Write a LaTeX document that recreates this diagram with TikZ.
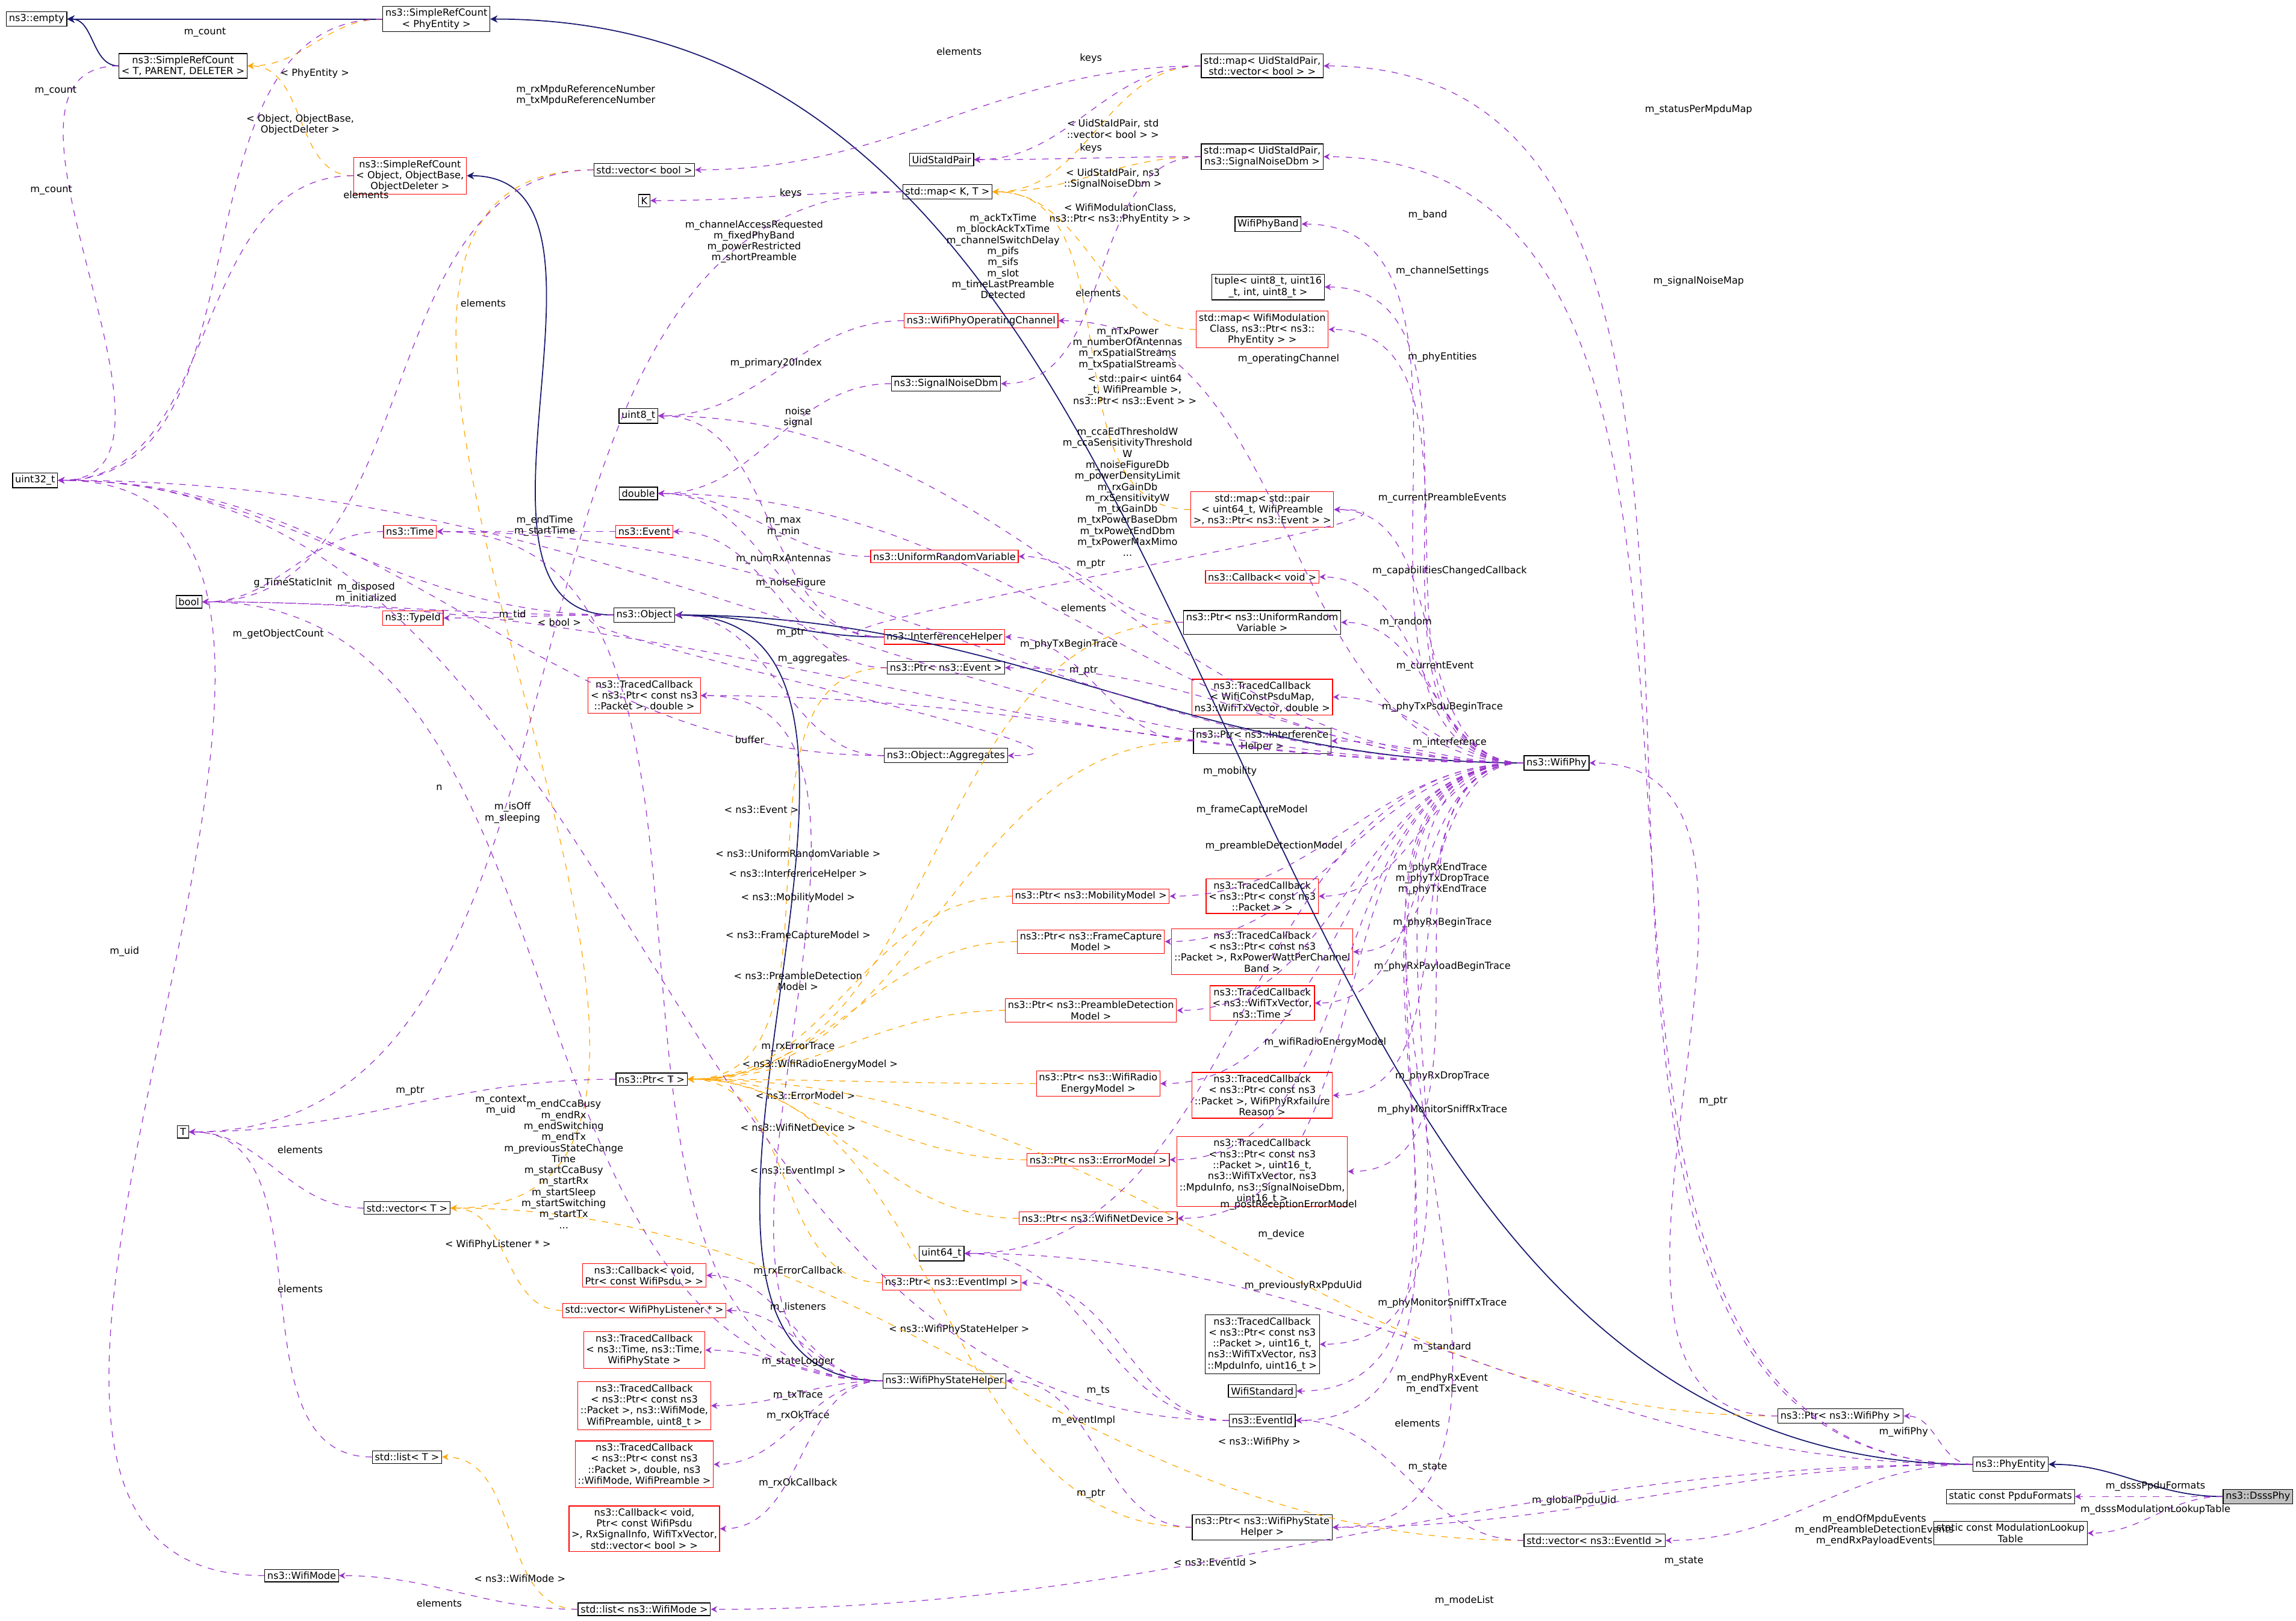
\documentclass[tikz,border=0pt]{standalone}
\usepackage{fontspec}
\setmainfont{DejaVu Sans}
\usetikzlibrary{arrows.meta}
\definecolor{usecol}{RGB}{154,50,205}
\definecolor{tplcol}{RGB}{255,165,0}
\definecolor{inhcol}{RGB}{25,25,112}
\tikzset{
  cls/.style={draw=black, fill=white, font=\fontsize{4.6}{5.2}\selectfont, align=center, inner sep=1.2pt, line width=0.35pt},
  redcls/.style={cls, draw=red},
  graycls/.style={cls, fill=black!25},
  elabel/.style={font=\fontsize{4.6}{5.2}\selectfont, align=center, inner sep=0.5pt},
  useedge/.style={draw=usecol, dashed, line width=0.35pt, -{Stealth[length=3pt,width=3pt]}},
  tpledge/.style={draw=tplcol, dashed, line width=0.35pt, -{Stealth[length=3pt,width=3pt]}},
  inhedge/.style={draw=inhcol, line width=0.5pt, -{Stealth[length=3.5pt,width=3.5pt]}}
}
% edge from user to used type, label placed at a given point
\newcommand{\usedge}[4]{\draw[useedge] (#1) to[out=180,in=0] (#2); \node[elabel] at (#4) {#3};}
\newcommand{\tpledge}[4]{\draw[tpledge] (#1) to[out=180,in=0] (#2); \node[elabel] at (#4) {#3};}
\newcommand{\inhedge}[2]{\draw[inhedge] (#1) to[out=180,in=0] (#2);}
\begin{document}
\begin{tikzpicture}[x=0.0243cm, y=-0.0243cm]
\useasboundingbox (0,0) rectangle (1568,1107);

% left column
\node[cls] (empty) at (25,13) {ns3::empty};
\node[cls] (srcPhy) at (298,13) {ns3::SimpleRefCount\\< PhyEntity >};
\node[cls] (srcT) at (125,45) {ns3::SimpleRefCount\\< T, PARENT, DELETER >};
\node[cls] (uint32) at (24,328) {uint32\_t};
\node[redcls] (srcObj) at (280,120) {ns3::SimpleRefCount\\< Object, ObjectBase,\\ObjectDeleter >};
\node[cls] (bool) at (129,411) {bool};
\node[redcls] (time) at (280,363) {ns3::Time};
\node[redcls] (typeid) at (282,422) {ns3::TypeId};
\node[cls] (T) at (125,773) {T};
\node[cls] (vecT) at (278,825) {std::vector< T >};
\node[cls] (listT) at (278,995) {std::list< T >};
\node[cls] (wifimode) at (206,1076) {ns3::WifiMode};

% second column
\node[cls] (vecbool) at (440,116) {std::vector< bool >};
\node[cls] (K) at (440,137) {K};
\node[cls] (uint8) at (436,284) {uint8\_t};
\node[cls] (double) at (436,337) {double};
\node[redcls] (event) at (440,363) {ns3::Event};
\node[cls] (object) at (440,420) {ns3::Object};
\node[redcls] (tcPktDbl) at (440,475) {ns3::TracedCallback\\< ns3::Ptr< const ns3\\::Packet >, double >};
\node[cls] (ptrT) at (445,737) {ns3::Ptr< T >};
\node[redcls] (cbPsdu) at (440,871) {ns3::Callback< void,\\Ptr< const WifiPsdu > >};
\node[redcls] (vecWPL) at (440,895) {std::vector< WifiPhyListener * >};
\node[redcls] (tcState) at (440,922) {ns3::TracedCallback\\< ns3::Time, ns3::Time,\\WifiPhyState >};
\node[redcls] (tcTx) at (440,960) {ns3::TracedCallback\\< ns3::Ptr< const ns3\\::Packet >, ns3::WifiMode,\\WifiPreamble, uint8\_t >};
\node[redcls] (tcRxOk) at (440,1000) {ns3::TracedCallback\\< ns3::Ptr< const ns3\\::Packet >, double, ns3\\::WifiMode, WifiPreamble >};
\node[redcls] (cbRxOk) at (440,1044) {ns3::Callback< void,\\Ptr< const WifiPsdu\\>, RxSignalInfo, WifiTxVector,\\std::vector< bool > >};
\node[cls] (listMode) at (440,1099) {std::list< ns3::WifiMode >};

% third column
\node[cls] (uidpair) at (643,109) {UidStaIdPair};
\node[cls] (mapKT) at (647,131) {std::map< K, T >};
\node[redcls] (opChan) at (670,219) {ns3::WifiPhyOperatingChannel};
\node[cls] (snr) at (646,262) {ns3::SignalNoiseDbm};
\node[redcls] (urv) at (645,380) {ns3::UniformRandomVariable};
\node[redcls] (ih) at (645,435) {ns3::InterferenceHelper};
\node[cls] (ptrEvent) at (646,456) {ns3::Ptr< ns3::Event >};
\node[cls] (aggr) at (646,516) {ns3::Object::Aggregates};
\node[redcls] (ptrMob) at (745,612) {ns3::Ptr< ns3::MobilityModel >};
\node[redcls] (ptrFcm) at (745,643) {ns3::Ptr< ns3::FrameCapture\\Model >};
\node[redcls] (ptrPdm) at (745,690) {ns3::Ptr< ns3::PreambleDetection\\Model >};
\node[redcls] (ptrWrem) at (750,740) {ns3::Ptr< ns3::WifiRadio\\EnergyModel >};
\node[redcls] (ptrErr) at (750,792) {ns3::Ptr< ns3::ErrorModel >};
\node[redcls] (ptrWnd) at (750,832) {ns3::Ptr< ns3::WifiNetDevice >};
\node[cls] (uint64) at (643,856) {uint64\_t};
\node[redcls] (ptrEvImpl) at (650,876) {ns3::Ptr< ns3::EventImpl >};
\node[cls] (wpsh) at (645,943) {ns3::WifiPhyStateHelper};

% fourth column
\node[cls] (mapUidVec) at (862,45) {std::map< UidStaIdPair,\\std::vector< bool > >};
\node[cls] (mapUidSnr) at (862,107) {std::map< UidStaIdPair,\\ns3::SignalNoiseDbm >};
\node[cls] (band) at (866,153) {WifiPhyBand};
\node[cls] (tuple) at (866,196) {tuple< uint8\_t, uint16\\\_t, int, uint8\_t >};
\node[redcls] (mapWmc) at (862,225) {std::map< WifiModulation\\Class, ns3::Ptr< ns3::\\PhyEntity > >};
\node[redcls] (mapPair) at (862,348) {std::map< std::pair\\< uint64\_t, WifiPreamble\\>, ns3::Ptr< ns3::Event > >};
\node[redcls] (cbVoid) at (862,394) {ns3::Callback< void >};
\node[cls] (ptrUrv) at (862,425) {ns3::Ptr< ns3::UniformRandom\\Variable >};
\node[redcls] (tcPsduMap) at (862,476) {ns3::TracedCallback\\< WifiConstPsduMap,\\ns3::WifiTxVector, double >};
\node[cls] (ptrIh) at (862,506) {ns3::Ptr< ns3::Interference\\Helper >};
\node[redcls] (tcPkt) at (862,612) {ns3::TracedCallback\\< ns3::Ptr< const ns3\\::Packet > >};
\node[redcls] (tcRxPow) at (862,650) {ns3::TracedCallback\\< ns3::Ptr< const ns3\\::Packet >, RxPowerWattPerChannel\\Band >};
\node[redcls] (tcTxVecTime) at (862,685) {ns3::TracedCallback\\< ns3::WifiTxVector,\\ns3::Time >};
\node[redcls] (tcFail) at (862,748) {ns3::TracedCallback\\< ns3::Ptr< const ns3\\::Packet >, WifiPhyRxfailure\\Reason >};
\node[redcls] (tcSniffRx) at (862,800) {ns3::TracedCallback\\< ns3::Ptr< const ns3\\::Packet >, uint16\_t,\\ns3::WifiTxVector, ns3\\::MpduInfo, ns3::SignalNoiseDbm,\\uint16\_t >};
\node[cls] (tcSniffTx) at (862,918) {ns3::TracedCallback\\< ns3::Ptr< const ns3\\::Packet >, uint16\_t,\\ns3::WifiTxVector, ns3\\::MpduInfo, uint16\_t >};
\node[cls] (standard) at (862,950) {WifiStandard};
\node[cls] (eventId) at (862,970) {ns3::EventId};
\node[cls] (ptrWpsh) at (862,1043) {ns3::Ptr< ns3::WifiPhyState\\Helper >};

% right part
\node[cls] (wifiphy) at (1063,521) {ns3::WifiPhy};
\node[cls] (vecEventId) at (1089,1052) {std::vector< ns3::EventId >};
\node[cls] (ptrWifiPhy) at (1257,967) {ns3::Ptr< ns3::WifiPhy >};
\node[cls] (phyEntity) at (1373,1000) {ns3::PhyEntity};
\node[cls] (ppduFormats) at (1373,1022) {static const PpduFormats};
\node[cls] (modTable) at (1373,1047) {static const ModulationLookup\\Table};
\node[graycls] (dsss) at (1542,1022) {ns3::DsssPhy};

% inheritance
\inhedge{srcT}{empty}
\inhedge{srcPhy}{empty}
\inhedge{object}{srcObj}
\inhedge{ih}{object}
\inhedge{wifiphy}{object}
\inhedge{wpsh}{object}
\inhedge{phyEntity}{srcPhy}
\inhedge{dsss}{phyEntity}

% templates
\tpledge{srcPhy}{srcT}{< PhyEntity >}{215,50}
\tpledge{srcObj}{srcT}{< Object, ObjectBase,\\ObjectDeleter >}{205,85}
\tpledge{vecbool}{vecT}{< bool >}{382,425}
\tpledge{mapUidVec}{mapKT}{< UidStaIdPair, std\\::vector< bool > >}{760,88}
\tpledge{mapUidSnr}{mapKT}{< UidStaIdPair, ns3\\::SignalNoiseDbm >}{760,122}
\tpledge{mapWmc}{mapKT}{< WifiModulationClass,\\ns3::Ptr< ns3::PhyEntity > >}{765,146}
\tpledge{mapPair}{mapKT}{< std::pair< uint64\\\_t, WifiPreamble >,\\ns3::Ptr< ns3::Event > >}{775,266}
\tpledge{ptrUrv}{ptrT}{< ns3::UniformRandomVariable >}{545,583}
\tpledge{ptrEvent}{ptrT}{< ns3::Event >}{520,553}
\tpledge{ptrIh}{ptrT}{< ns3::InterferenceHelper >}{545,597}
\tpledge{ptrMob}{ptrT}{< ns3::MobilityModel >}{545,613}
\tpledge{ptrFcm}{ptrT}{< ns3::FrameCaptureModel >}{545,639}
\tpledge{ptrPdm}{ptrT}{< ns3::PreambleDetection\\Model >}{545,670}
\tpledge{ptrWrem}{ptrT}{< ns3::WifiRadioEnergyModel >}{560,727}
\tpledge{ptrErr}{ptrT}{< ns3::ErrorModel >}{550,748}
\tpledge{ptrWnd}{ptrT}{< ns3::WifiNetDevice >}{545,770}
\tpledge{ptrEvImpl}{ptrT}{< ns3::EventImpl >}{545,800}
\tpledge{ptrWifiPhy}{ptrT}{< ns3::WifiPhy >}{860,985}
\tpledge{ptrWpsh}{ptrT}{< ns3::WifiPhyStateHelper >}{655,908}
\tpledge{vecWPL}{vecT}{< WifiPhyListener * >}{340,850}
\tpledge{vecEventId}{vecT}{< ns3::EventId >}{830,1067}
\tpledge{listMode}{listT}{< ns3::WifiMode >}{355,1078}

% usage
\usedge{srcPhy}{uint32}{m\_count}{140,22}
\usedge{srcT}{uint32}{m\_count}{38,62}
\usedge{srcObj}{uint32}{m\_count}{35,130}
\usedge{vecbool}{bool}{elements}{250,133}
\usedge{mapKT}{K}{keys}{540,132}
\usedge{mapKT}{T}{elements}{330,207}
\usedge{mapUidVec}{uidpair}{keys}{745,40}
\usedge{mapUidVec}{vecbool}{elements}{655,35}
\usedge{mapUidSnr}{uidpair}{keys}{745,101}
\usedge{mapUidSnr}{snr}{elements}{750,200}
\usedge{snr}{double}{noise\\signal}{545,285}
\usedge{opChan}{uint8}{m\_primary20Index}{530,248}
\usedge{time}{bool}{g\_TimeStaticInit}{200,398}
\usedge{event}{time}{m\_endTime\\m\_startTime}{372,359}
\usedge{object}{bool}{m\_disposed\\m\_initialized}{250,405}
\usedge{object}{typeid}{m\_tid}{350,420}
\usedge{object}{aggr}{m\_aggregates}{555,450}
\usedge{object}{uint32}{m\_getObjectCount}{190,433}
\usedge{aggr}{uint32}{n}{300,538}
\usedge{aggr}{object}{buffer}{512,505}
\usedge{ih}{uint8}{m\_numRxAntennas}{535,382}
\usedge{ih}{double}{m\_noiseFigure}{540,398}
\usedge{ih}{mapPair}{elements}{740,415}
\usedge{ptrEvent}{event}{m\_ptr}{540,432}
\usedge{ptrUrv}{urv}{m\_ptr}{745,385}
\usedge{ptrIh}{ih}{m\_ptr}{740,458}
\usedge{urv}{double}{m\_max\\m\_min}{535,360}
\usedge{ptrT}{T}{m\_ptr}{280,745}
\usedge{vecT}{T}{elements}{205,785}
\usedge{listT}{T}{elements}{205,880}
\usedge{listMode}{wifimode}{elements}{300,1095}
\usedge{wifimode}{uint32}{m\_uid}{85,650}
\usedge{vecEventId}{eventId}{elements}{968,972}
\usedge{eventId}{uint64}{m\_ts}{750,950}
\usedge{eventId}{ptrEvImpl}{m\_eventImpl}{740,970}
\usedge{eventId}{uint32}{m\_context\\m\_uid}{342,755}
\usedge{ptrWpsh}{wpsh}{m\_ptr}{745,1020}
\usedge{ptrWifiPhy}{wifiphy}{m\_ptr}{1170,752}
\usedge{wpsh}{cbPsdu}{m\_rxErrorCallback}{545,868}
\usedge{wpsh}{vecWPL}{m\_listeners}{545,893}
\usedge{wpsh}{tcState}{m\_stateLogger}{545,930}
\usedge{wpsh}{tcTx}{m\_txTrace}{545,953}
\usedge{wpsh}{tcRxOk}{m\_rxOkTrace}{545,967}
\usedge{wpsh}{cbRxOk}{m\_rxOkCallback}{545,1013}
\usedge{wpsh}{tcPktDbl}{m\_rxErrorTrace}{545,715}
\usedge{wpsh}{time}{m\_endCcaBusy\\m\_endRx\\m\_endSwitching\\m\_endTx\\m\_previousStateChange\\Time\\m\_startCcaBusy\\m\_startRx\\m\_startSleep\\m\_startSwitching\\m\_startTx\\...}{385,795}
\usedge{wpsh}{bool}{m\_isOff\\m\_sleeping}{350,555}
\usedge{wifiphy}{band}{m\_band}{975,147}
\usedge{wifiphy}{tuple}{m\_channelSettings}{985,185}
\usedge{wifiphy}{mapWmc}{m\_phyEntities}{985,244}
\usedge{wifiphy}{opChan}{m\_operatingChannel}{880,245}
\usedge{wifiphy}{mapPair}{m\_currentPreambleEvents}{985,340}
\usedge{wifiphy}{cbVoid}{m\_capabilitiesChangedCallback}{990,390}
\usedge{wifiphy}{ptrUrv}{m\_random}{960,425}
\usedge{wifiphy}{ptrEvent}{m\_currentEvent}{980,455}
\usedge{wifiphy}{tcPsduMap}{m\_phyTxPsduBeginTrace}{985,483}
\usedge{wifiphy}{ptrIh}{m\_interference}{990,507}
\usedge{wifiphy}{ptrMob}{m\_mobility}{840,527}
\usedge{wifiphy}{ptrFcm}{m\_frameCaptureModel}{855,553}
\usedge{wifiphy}{ptrPdm}{m\_preambleDetectionModel}{870,578}
\usedge{wifiphy}{tcPkt}{m\_phyRxEndTrace\\m\_phyTxDropTrace\\m\_phyTxEndTrace}{985,600}
\usedge{wifiphy}{tcRxPow}{m\_phyRxBeginTrace}{985,630}
\usedge{wifiphy}{tcTxVecTime}{m\_phyRxPayloadBeginTrace}{985,660}
\usedge{wifiphy}{ptrWrem}{m\_wifiRadioEnergyModel}{905,712}
\usedge{wifiphy}{tcFail}{m\_phyRxDropTrace}{985,735}
\usedge{wifiphy}{tcSniffRx}{m\_phyMonitorSniffRxTrace}{985,758}
\usedge{wifiphy}{ptrErr}{m\_postReceptionErrorModel}{880,823}
\usedge{wifiphy}{ptrWnd}{m\_device}{875,843}
\usedge{wifiphy}{uint64}{m\_previouslyRxPpduUid}{890,878}
\usedge{wifiphy}{tcSniffTx}{m\_phyMonitorSniffTxTrace}{985,890}
\usedge{wifiphy}{standard}{m\_standard}{985,920}
\usedge{wifiphy}{eventId}{m\_endPhyRxEvent\\m\_endTxEvent}{985,945}
\usedge{wifiphy}{ptrWpsh}{m\_state}{975,1002}
\usedge{wifiphy}{tcPktDbl}{m\_phyTxBeginTrace}{730,440}
\usedge{wifiphy}{uint32}{m\_rxMpduReferenceNumber\\m\_txMpduReferenceNumber}{400,65}
\usedge{wifiphy}{bool}{m\_channelAccessRequested\\m\_fixedPhyBand\\m\_powerRestricted\\m\_shortPreamble}{515,165}
\usedge{wifiphy}{time}{m\_ackTxTime\\m\_blockAckTxTime\\m\_channelSwitchDelay\\m\_pifs\\m\_sifs\\m\_slot\\m\_timeLastPreamble\\Detected}{685,175}
\usedge{wifiphy}{uint8}{m\_nTxPower\\m\_numberOfAntennas\\m\_rxSpatialStreams\\m\_txSpatialStreams}{770,238}
\usedge{wifiphy}{double}{m\_ccaEdThresholdW\\m\_ccaSensitivityThreshold\\W\\m\_noiseFigureDb\\m\_powerDensityLimit\\m\_rxGainDb\\m\_rxSensitivityW\\m\_txGainDb\\m\_txPowerBaseDbm\\m\_txPowerEndDbm\\m\_txPowerMaxMimo\\...}{770,336}
\usedge{phyEntity}{mapUidVec}{m\_statusPerMpduMap}{1160,75}
\usedge{phyEntity}{mapUidSnr}{m\_signalNoiseMap}{1160,192}
\usedge{phyEntity}{ptrWifiPhy}{m\_wifiPhy}{1300,978}
\usedge{phyEntity}{uint64}{m\_globalPpduUid}{1075,1025}
\usedge{phyEntity}{vecEventId}{m\_endOfMpduEvents\\m\_endPreambleDetectionEvents\\m\_endRxPayloadEvents}{1280,1045}
\usedge{phyEntity}{ptrWpsh}{m\_state}{1150,1066}
\usedge{phyEntity}{listMode}{m\_modeList}{1000,1093}
\usedge{dsss}{ppduFormats}{m\_dsssPpduFormats}{1472,1015}
\usedge{dsss}{modTable}{m\_dsssModulationLookupTable}{1472,1031}
\end{tikzpicture}
\end{document}
